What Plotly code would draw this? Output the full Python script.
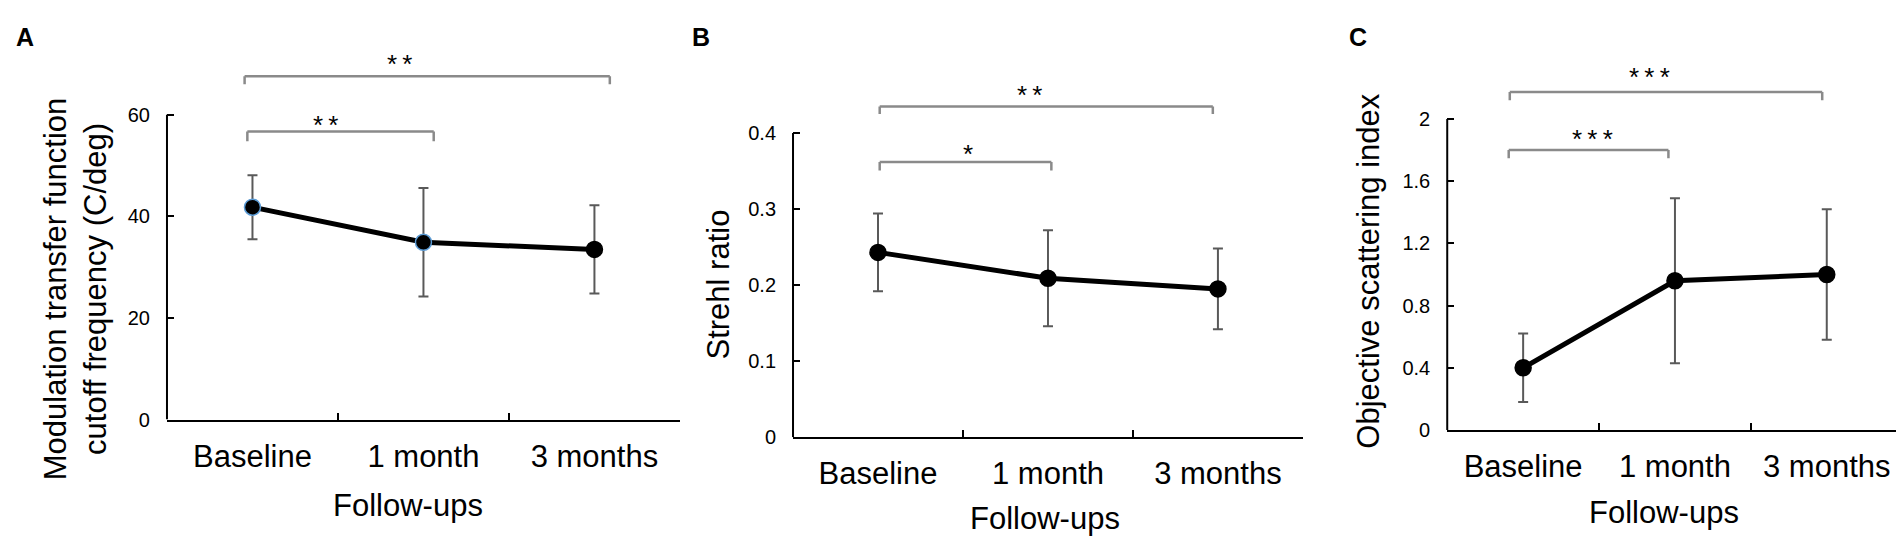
import plotly.graph_objects as go

###############################################################
# Optical quality follow-up: MTF cutoff, Strehl ratio, OSI
###############################################################

categories = ["Baseline", "1 month", "3 months"]

mtf_mean = [41.8, 34.9, 33.5]
mtf_sd = [6.3, 10.7, 8.7]

strehl_mean = [0.243, 0.209, 0.195]
strehl_sd = [0.051, 0.063, 0.053]

osi_mean = [0.40, 0.96, 1.00]
osi_sd = [0.22, 0.53, 0.42]

mtf_ticks = [0, 20, 40, 60]
strehl_ticks = [0, 0.1, 0.2, 0.3, 0.4]
strehl_ticktext = ["0", "0.1", "0.2", "0.3", "0.4"]
osi_ticks = [0, 0.4, 0.8, 1.2, 1.6, 2]
osi_ticktext = ["0", "0.4", "0.8", "1.2", "1.6", "2"]

FONT = "Liberation Sans, Arial, sans-serif"
ERR_COLOR = "#595959"
BRACKET_COLOR = "#8a8a8a"


def stars(n):
    # asterisks are spaced a little apart in the original
    return "\u2009".join(["*"] * n)


panels = [
    dict(
        letter="A", xd=[0.0835, 0.3529], yd=[0.2308, 1.0], yrange=[0, 81.03],
        mean=mtf_mean, sd=mtf_sd, ticks=mtf_ticks, ticktext=[str(t) for t in mtf_ticks], ytop=60,
        outline=["#5b9bd5", "#5b9bd5", "black"],
        ytitle="Modulation transfer function<br>cutoff frequency (C/deg)", ytitle_pos=(0.0352, 0.4744),
        xtitle_pos=(0.2101, 0.0696), letter_x=0.003,
        brackets=[(-0.046, 2.09, 67.6, 66.0, stars(2), 0.86, 71.4),
                  (-0.03, 1.06, 56.7, 54.8, stars(2), 0.43, 59.4)],
    ),
    dict(
        letter="B", xd=[0.4123, 0.6801], yd=[0.1978, 1.0], yrange=[0, 0.5644],
        mean=strehl_mean, sd=strehl_sd, ticks=strehl_ticks, ticktext=strehl_ticktext, ytop=0.4,
        outline=["black", "black", "black"],
        ytitle="Strehl ratio", ytitle_pos=(0.373, 0.4835),
        xtitle_pos=(0.5446, 0.0458), letter_x=0.358,
        brackets=[(0.01, 1.97, 0.435, 0.425, stars(2), 0.89, 0.459),
                  (0.01, 1.02, 0.3618, 0.3506, stars(1), 0.53, 0.382)],
    ),
    dict(
        letter="C", xd=[0.7559, 0.9951], yd=[0.2112, 1.0], yrange=[0, 2.714],
        mean=osi_mean, sd=osi_sd, ticks=osi_ticks, ticktext=osi_ticktext, ytop=2,
        outline=["black", "black", "black"],
        ytitle="Objective scattering index", ytitle_pos=(0.7148, 0.509),
        xtitle_pos=(0.8697, 0.0568), letter_x=0.703,
        brackets=[(-0.088, 1.97, 2.174, 2.12, stars(3), 0.83, 2.315),
                  (-0.095, 0.957, 1.80, 1.748, stars(3), 0.46, 1.916)],
    ),
]

fig = go.Figure()
shapes = []
annotations = []

for i, p in enumerate(panels):
    n = "" if i == 0 else str(i + 1)
    xa, ya = "x" + n, "y" + n

    fig.add_trace(go.Scatter(
        x=categories, y=p["mean"], xaxis=xa, yaxis=ya,
        mode="lines+markers",
        line=dict(color="black", width=5),
        marker=dict(size=16, color="black", line=dict(color=p["outline"], width=1.5)),
        error_y=dict(type="data", array=p["sd"], visible=True, color=ERR_COLOR, thickness=2, width=5),
        showlegend=False,
    ))

    fig.update_layout(**{
        "xaxis" + n: dict(
            domain=p["xd"], anchor=ya, type="category", categoryorder="array",
            categoryarray=categories, range=[-0.5, 2.5],
            showline=True, linewidth=2, linecolor="black",
            ticks="inside", tickson="boundaries", ticklen=7, tickwidth=2, tickcolor="black",
            tickfont=dict(family=FONT, size=31, color="black"), ticklabelstandoff=8,
            showgrid=False, zeroline=False,
        ),
        "yaxis" + n: dict(
            domain=p["yd"], anchor=xa, range=p["yrange"],
            showline=False, tickvals=p["ticks"], ticktext=p["ticktext"],
            ticks="inside", ticklen=7, tickwidth=2, tickcolor="black",
            tickfont=dict(family=FONT, size=20, color="black"), ticklabelstandoff=16,
            showgrid=False, zeroline=False,
        ),
    })

    # y axis line stops at the top tick
    shapes.append(dict(type="line", xref=xa + " domain", yref=ya, x0=0, x1=0, y0=0, y1=p["ytop"],
                       line=dict(color="black", width=2)))

    # significance brackets
    for x0, x1, yb, ytip, label, xl, yl in p["brackets"]:
        for (ax, ay, bx, by) in [(x0, ytip, x0, yb), (x0, yb, x1, yb), (x1, yb, x1, ytip)]:
            shapes.append(dict(type="line", xref=xa, yref=ya, x0=ax, y0=ay, x1=bx, y1=by,
                               line=dict(color=BRACKET_COLOR, width=2.5)))
        annotations.append(dict(x=xl, y=yl, xref=xa, yref=ya, text=label, showarrow=False,
                                font=dict(family=FONT, size=26, color="black"),
                                xanchor="center", yanchor="middle", yshift=-7))

    annotations.append(dict(x=p["ytitle_pos"][0], y=p["ytitle_pos"][1], xref="paper", yref="paper",
                            text=p["ytitle"], textangle=-90, showarrow=False,
                            font=dict(family=FONT, size=31, color="black"),
                            xanchor="center", yanchor="middle"))
    annotations.append(dict(x=p["xtitle_pos"][0], y=p["xtitle_pos"][1], xref="paper", yref="paper",
                            text="Follow-ups", showarrow=False,
                            font=dict(family=FONT, size=31, color="black"),
                            xanchor="center", yanchor="middle"))
    annotations.append(dict(x=p["letter_x"], y=0.975, xref="paper", yref="paper",
                            text="<b>" + p["letter"] + "</b>", showarrow=False,
                            font=dict(family=FONT, size=25, color="black"),
                            xanchor="left", yanchor="top"))

fig.update_layout(
    width=1904,
    height=546,
    margin=dict(l=0, r=0, t=0, b=0),
    paper_bgcolor="white",
    plot_bgcolor="white",
    shapes=shapes,
    annotations=annotations,
)

fig.write_html("out.html")
